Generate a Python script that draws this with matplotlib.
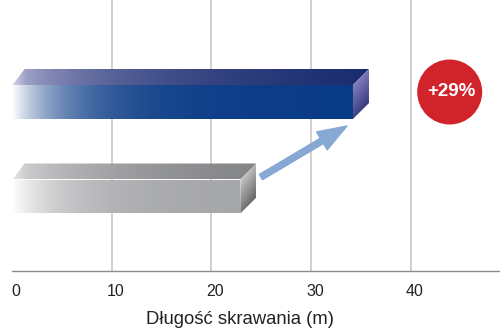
import numpy as np
import matplotlib
matplotlib.use("Agg")
import matplotlib.pyplot as plt
from matplotlib.patches import Polygon, FancyArrowPatch
from matplotlib.colors import to_rgb
import matplotlib.transforms as mtransforms

plt.rcParams['font.family'] = ['Liberation Sans', 'DejaVu Sans']

# Data
categories = ["Standard", "Nowy"]
values = [22.9, 34.2]
improvement_label = "+29%"
xticks = [0, 10, 20, 30, 40]
xtick_labels = ["0", "10", "20", "30", "40"]
xlabel = "Długość skrawania (m)"

# Styles: (front, top-left, top-right, side-light, side-dark)
bar_styles = [
    ("#a5a6a8", "#d6d6d8", "#7f8083", "#e6e6e6", "#4a4a4c"),
    ("#0a3b86", "#aeaed0", "#182a6e", "#9a9ad4", "#1c1c66"),
]

W, H, DPI = 500, 329, 100
fig = plt.figure(figsize=(W / DPI, H / DPI), dpi=DPI)
ax = fig.add_axes([12 / W, (H - 271) / H, 488 / W, 271 / H])

XMAX = 488 / 9.97
ax.set_xlim(0, XMAX)
ax.set_ylim(-74.5 / 94.5, (271 - 74.5) / 94.5)

px_x = XMAX / 488.0          # data units per pixel (x)
px_y = (ax.get_ylim()[1] - ax.get_ylim()[0]) / 271.0
half_h = 17 * px_y
dx, dy = 16 * px_x, 16 * px_y


def gradient_face(verts, rgba_func, zorder):
    poly = Polygon(verts, closed=True, facecolor='none', edgecolor='none')
    ax.add_patch(poly)
    xs = [v[0] for v in verts]
    ys = [v[1] for v in verts]
    x0, x1, y0, y1 = min(xs), max(xs), min(ys), max(ys)
    nx, ny = 400, 60
    gx = np.linspace(x0, x1, nx)
    gy = np.linspace(y1, y0, ny)
    X, Y = np.meshgrid(gx, gy)
    img = rgba_func(X, Y, x0, x1, y0, y1)
    im = ax.imshow(img, extent=(x0, x1, y0, y1), aspect='auto',
                   interpolation='bilinear', zorder=zorder, origin='upper')
    im.set_clip_path(poly)


def mix(c1, c2, f):
    c1 = np.array(to_rgb(c1))
    c2 = np.array(to_rgb(c2))
    f = f[..., None]
    rgb = c1 * (1 - f) + c2 * f
    return np.clip(rgb, 0, 1)


for yi, (val, style) in enumerate(zip(values, bar_styles)):
    front, top_l, top_r, side_l, side_d = style
    yb, yt = yi - half_h, yi + half_h
    x_start = 0.05

    # front face: fades in from white on the left
    def front_fn(X, Y, x0, x1, y0, y1, c=front):
        d = (X - x_start) / (55 * px_x)
        f = 1 - np.exp(-np.clip(d, 0, None))
        return mix("#ffffff", c, f)

    gradient_face([(x_start, yb), (val, yb), (val, yt), (x_start, yt)],
                  front_fn, 3)

    # top face: light on the left, darkening to the right
    def top_fn(X, Y, x0, x1, y0, y1, cl=top_l, cr=top_r):
        d = (X - x0) / (90 * px_x)
        f = 1 - np.exp(-np.clip(d, 0, None))
        t = np.clip((X - x0) / (x1 - x0), 0, 1)
        f = np.clip(0.75 * f + 0.25 * t, 0, 1)
        w = np.clip((X - x0) / (14 * px_x), 0, 1)[..., None]
        return mix(cl, cr, f) * (0.55 + 0.45 * w) + (1 - (0.55 + 0.45 * w))

    gradient_face([(x_start, yt), (val, yt), (val + dx, yt + dy),
                   (x_start + 12 * px_x, yt + dy)], top_fn, 3)

    # right side face
    def side_fn(X, Y, x0, x1, y0, y1, cl=side_l, cd=side_d):
        u = (X - x0) / (x1 - x0)
        v = (y1 - Y) / (y1 - y0)
        f = np.clip(0.75 * v + 0.35 * u - 0.05, 0, 1)
        return mix(cl, cd, f)

    gradient_face([(val, yb), (val + dx, yb + dy), (val + dx, yt + dy),
                   (val, yt)], side_fn, 3)

# Growth arrow from the shorter bar toward the longer one
arrow = FancyArrowPatch(
    (24.97, 0.206), (33.6, 0.746),
    arrowstyle="simple,head_length=21,head_width=15,tail_width=4.4",
    mutation_scale=1, color="#88a8d4", shrinkA=0, shrinkB=0, zorder=4)
ax.add_patch(arrow)

# Improvement badge
bx, by = 43.9, (271 - 92 - 74.5) / 94.5
ax.scatter([bx], [by], s=(2 * 32.5 * 0.72) ** 2, color="#d1232a",
           edgecolors='none', zorder=5, clip_on=False)
ax.text(bx + 0.2, by, improvement_label, color="white", fontsize=13.5,
        fontweight='bold', ha='center', va='center', zorder=6)

# Axes styling
for s in ["top", "right", "left"]:
    ax.spines[s].set_visible(False)
ax.spines["bottom"].set_color("#8c8c8c")
ax.spines["bottom"].set_linewidth(1.0)
ax.set_yticks([])
ax.set_xticks(xticks)
ax.set_xticklabels(xtick_labels, fontsize=11.5, color="#222222")
ax.tick_params(axis='x', length=0, pad=9)
offset = mtransforms.ScaledTranslation(4 / DPI, 0, fig.dpi_scale_trans)
for lbl in ax.get_xticklabels():
    lbl.set_transform(lbl.get_transform() + offset)

for xv in xticks[1:]:
    ax.axvline(xv, color="#c4c4c4", linewidth=1.1, zorder=1)

ax.set_xlabel(xlabel, fontsize=13.3, color="#222222", va='center')
ax.xaxis.set_label_coords((240 - 12) / 488, -(319 - 271) / 271)

fig.savefig("out.png", dpi=DPI)
